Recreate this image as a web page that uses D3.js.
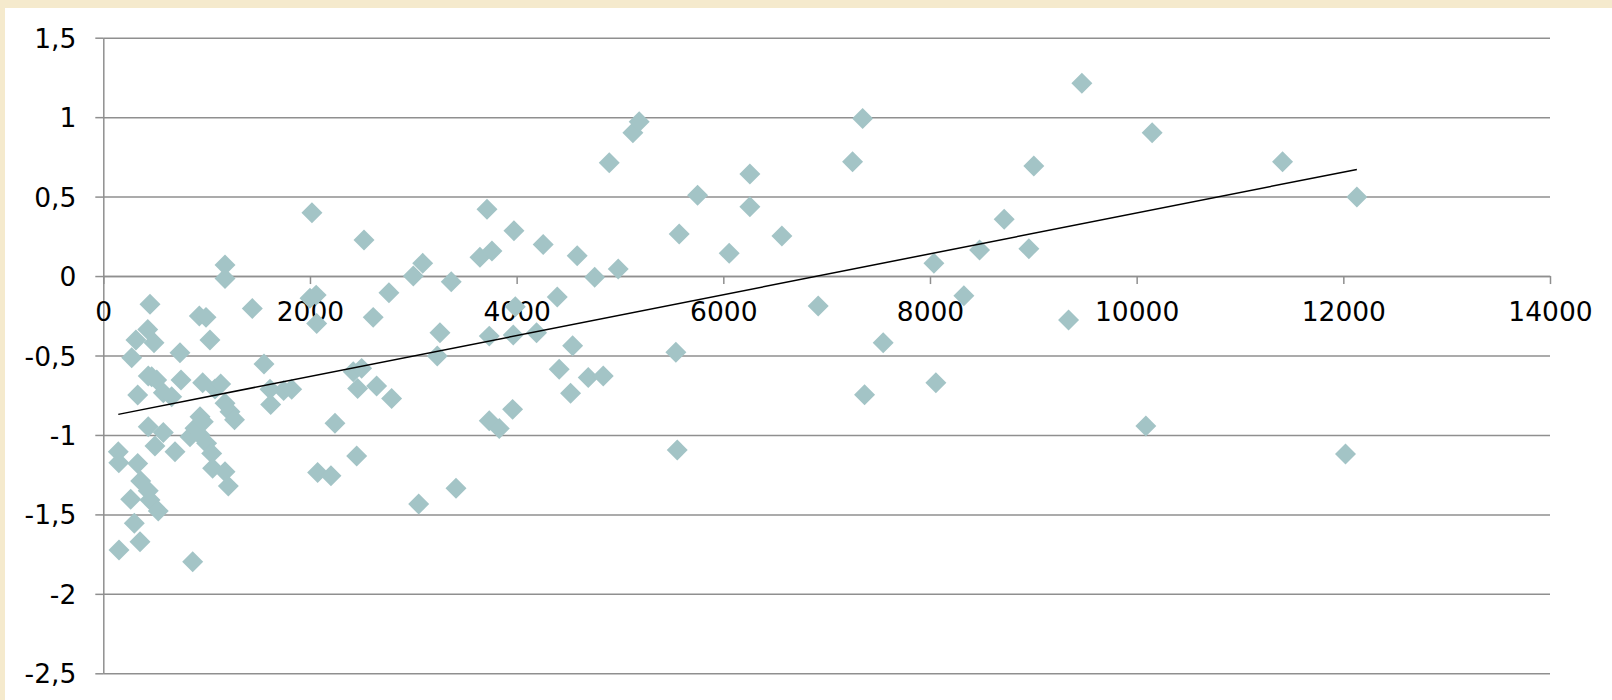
<!DOCTYPE html>
<html>
<head>
<meta charset="utf-8">
<script src="https://cdn.jsdelivr.net/npm/d3@7"></script>
<style>
    html, body { margin: 0; padding: 0; background: #f5eacd; overflow: hidden; }
    svg { display: block; }
</style>
</head>
<body>
<svg id="chart" width="1612" height="700"></svg>
<script>
// data
const xValues = [
    145, 150, 152, 265, 275, 300, 316, 333, 333, 355, 362, 430, 435, 435, 435, 452, 452, 468, 491, 500,
    517, 532, 581, 581, 662, 694, 742, 752, 839, 865, 887, 929, 936, 936, 962, 968, 994, 1000, 1032, 1049,
    1058, 1081, 1136, 1178, 1178, 1178, 1178, 1210, 1226, 1270, 1442, 1555, 1613, 1620, 1745, 1823, 2000, 2019, 2060, 2065,
    2074, 2203, 2242, 2419, 2452, 2461, 2500, 2523, 2612, 2645, 2764, 2790, 3000, 3052, 3091, 3232, 3258, 3367, 3413, 3645,
    3713, 3735, 3735, 3761, 3832, 3961, 3967, 3974, 3987, 4193, 4257, 4393, 4412, 4522, 4542, 4586, 4693, 4755, 4838, 4896,
    4983, 5125, 5186, 5541, 5554, 5573, 5751, 6057, 6257, 6257, 6567, 6918, 7251, 7348, 7367, 7547, 8038, 8057, 8328, 8480,
    8718, 8957, 9005, 9341, 9470, 10089, 10150, 11412, 12021, 12131
];
const yValues = [
    -1.106, -1.175, -1.724, -1.405, -0.514, -1.556, -0.403, -0.749, -1.179, -1.672, -1.290, -0.336, -0.629, -0.948, -1.351, -0.178, -1.410, -0.634, -0.420, -1.070,
    -0.654, -1.479, -0.734, -0.984, -0.759, -1.106, -0.483, -0.654, -1.011, -1.798, -0.958, -0.252, -1.000, -0.886, -0.671, -0.917, -0.260, -1.053, -0.403, -1.116,
    -1.210, -0.711, -0.680, 0.069, -0.015, -0.801, -1.232, -1.322, -0.854, -0.905, -0.204, -0.554, -0.713, -0.808, -0.720, -0.713, -0.140, 0.398, -0.120, -0.298,
    -1.236, -1.257, -0.927, -0.602, -1.133, -0.707, -0.581, 0.227, -0.260, -0.692, -0.105, -0.770, 0.000, -1.435, 0.080, -0.503, -0.357, -0.036, -1.336, 0.118,
    0.420, -0.378, -0.911, 0.157, -0.959, -0.839, -0.371, 0.285, -0.193, -0.357, 0.199, -0.132, -0.587, -0.738, -0.438, 0.128, -0.638, -0.008, -0.629, 0.713,
    0.044, 0.902, 0.971, -0.480, -1.095, 0.264, 0.508, 0.143, 0.642, 0.436, 0.252, -0.189, 0.719, 0.992, -0.747, -0.420, 0.080, -0.671, -0.124, 0.164,
    0.357, 0.172, 0.692, -0.277, 1.213, -0.944, 0.902, 0.719, -1.120, 0.497
];
const xTicks = [0, 2000, 4000, 6000, 8000, 10000, 12000, 14000];
const yTicks = [1.5, 1, 0.5, 0, -0.5, -1, -1.5, -2, -2.5];

(function() {
    const points = xValues.map((x, i) => ({ x, y: yValues[i] }));

    const svg = d3.select('#chart');
    const plot = { left: 103.3, right: 1550, top: 37.7, bottom: 673.3 };
    const gridColor = '#8f8f8f';
    const fontFamily = "'DejaVu Sans', Verdana, sans-serif";

    // white chart area (beige frame shows at top/left)
    svg.append('rect').attr('x', 5).attr('y', 8).attr('width', 1607).attr('height', 692).attr('fill', '#fff');

    const x = d3.scaleLinear().domain([0, 14000]).range([plot.left, plot.right]);
    const y = d3.scaleLinear().domain([-2.5, 1.5]).range([plot.bottom, plot.top]);

    // horizontal gridlines
    svg.append('g')
        .attr('transform', `translate(${plot.left},0)`)
        .call(d3.axisLeft(y).tickValues(yTicks).tickSize(-(plot.right - plot.left)).tickFormat(''))
        .call(g => g.select('.domain').remove())
        .call(g => g.selectAll('line').attr('stroke', gridColor).attr('stroke-width', 1.5));

    // y axis
    const yAxis = svg.append('g')
        .attr('transform', `translate(${plot.left},0)`)
        .call(d3.axisLeft(y).tickValues(yTicks).tickSize(8).tickSizeOuter(0).tickPadding(19)
            .tickFormat(d => String(d).replace('.', ',')));

    // x axis on the zero line
    const xAxis = svg.append('g')
        .attr('transform', `translate(0,${y(0)})`)
        .call(d3.axisBottom(x).tickValues(xTicks).tickSize(8).tickSizeOuter(0).tickPadding(18)
            .tickFormat(d => String(d)));

    [yAxis, xAxis].forEach(g => {
        g.select('.domain').attr('stroke', gridColor).attr('stroke-width', 1.5);
        g.selectAll('line').attr('stroke', gridColor).attr('stroke-width', 1.5);
        g.selectAll('text')
            .attr('fill', '#000')
            .style('font-family', fontFamily)
            .style('font-size', '26.5px');
    });
    yAxis.selectAll('text').attr('dy', '0.36em');

    // diamonds
    const diamond = d3.symbol(d3.symbolSquare, 220);
    svg.append('g')
        .selectAll('path')
        .data(points)
        .join('path')
        .attr('d', diamond)
        .attr('transform', d => `translate(${x(d.x)},${y(d.y)}) rotate(45)`)
        .attr('fill', '#a3c4c6');

    // linear trend line (least squares)
    const mx = d3.mean(points, d => d.x), my = d3.mean(points, d => d.y);
    const slope = d3.sum(points, d => (d.x - mx) * (d.y - my)) / d3.sum(points, d => (d.x - mx) ** 2);
    const icpt = my - slope * mx;
    const xExt = d3.extent(points, d => d.x);

    svg.append('path')
        .datum(xExt.map(v => ({ x: v, y: icpt + slope * v })))
        .attr('d', d3.line().x(d => x(d.x)).y(d => y(d.y)))
        .attr('fill', 'none')
        .attr('stroke', '#000')
        .attr('stroke-width', 1.5);
})();
</script>
</body>
</html>
